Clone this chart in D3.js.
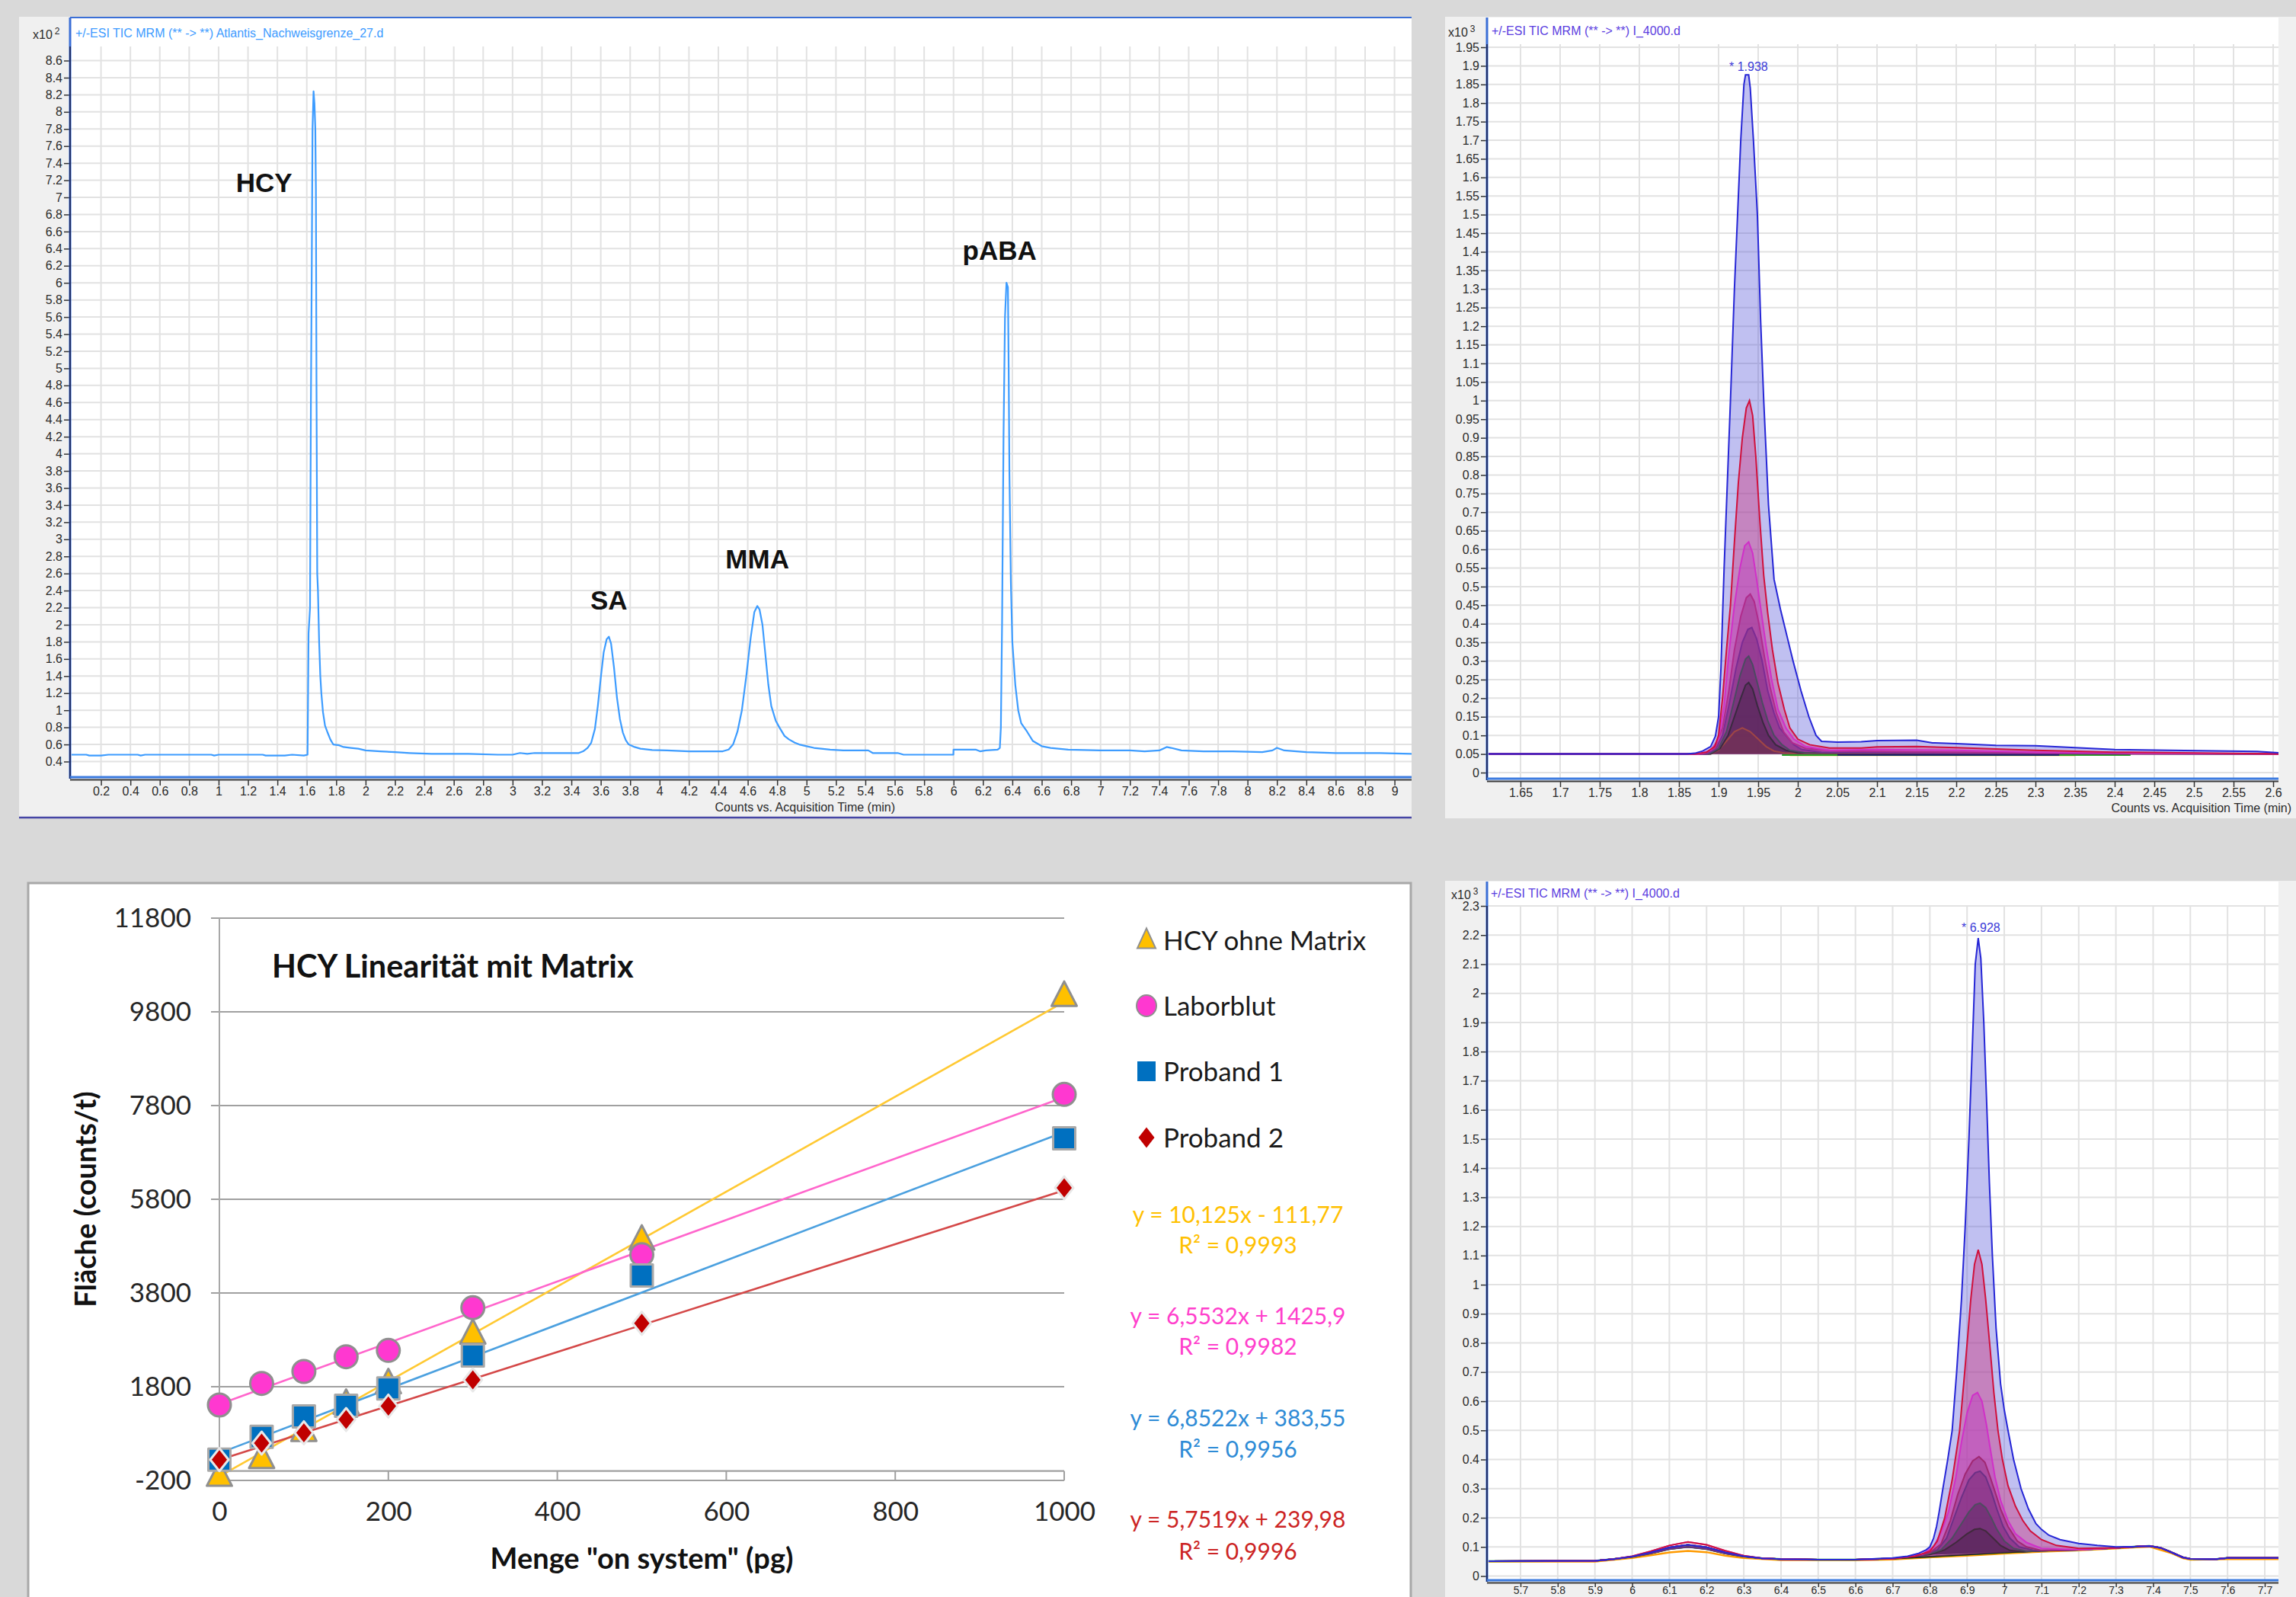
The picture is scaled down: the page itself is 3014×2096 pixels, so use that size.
<!DOCTYPE html>
<html><head><meta charset="utf-8">
<script src="https://cdn.jsdelivr.net/npm/d3@7"></script>
<style>
html,body{margin:0;padding:0;background:#d9d9d9;}
svg{display:block;}
</style></head><body>
<svg id="c" width="3014" height="2096"></svg>
<script>
// ================= DATA =================
// --- top-left chromatogram (time min, counts x10^2) ---
const tlTitle = "+/-ESI TIC MRM (** -> **) Atlantis_Nachweisgrenze_27.d";
const tlXTicks = d3.range(1, 46).map(i => i / 5);      // 0.2 .. 9
const tlYTicks = d3.range(2, 44).map(i => i / 5);      // 0.4 .. 8.6
const tlPeakNames = ["HCY", "SA", "MMA", "pABA"];
const tlPeakTimes = [1.646, 3.655, 4.665, 6.36];
const tlPeakLabelValues = [7.06, 2.18, 2.66, 6.27];
const tlTrace = [
[0.0,0.48],[0.1,0.48],[0.12,0.47],[0.2,0.47],[0.25,0.48],[0.45,0.48],[0.47,0.47],[0.5,0.48],[0.95,0.48],[0.97,0.47],[1.0,0.48],[1.3,0.48],[1.32,0.47],[1.45,0.47],[1.5,0.48],[1.58,0.47],[1.605,0.48],
[1.607,0.85],[1.612,1.9],[1.622,2.2],[1.628,4.6],[1.634,6.25],[1.639,7.8],[1.646,8.24],[1.652,8.1],[1.658,7.8],[1.662,7.1],[1.666,4.8],[1.671,2.6],[1.676,2.4],[1.684,1.8],[1.692,1.4],[1.699,1.2],[1.71,0.98],[1.724,0.82],[1.739,0.75],[1.76,0.66],[1.78,0.6],[1.82,0.59],[1.85,0.57],[1.9,0.56],[1.95,0.55],[2.0,0.53],[2.1,0.52],[2.2,0.51],[2.3,0.5],[2.45,0.49],[2.7,0.49],[2.9,0.48],[3.0,0.48],[3.05,0.5],[3.1,0.49],[3.15,0.5],[3.45,0.5],
[3.48,0.52],[3.51,0.56],[3.535,0.62],[3.56,0.78],[3.58,1.05],[3.6,1.38],[3.62,1.68],[3.64,1.83],[3.655,1.86],[3.67,1.78],[3.69,1.5],[3.71,1.15],[3.73,0.9],[3.75,0.74],[3.77,0.65],[3.79,0.6],[3.83,0.57],[3.87,0.55],[3.95,0.535],[4.05,0.53],[4.2,0.52],[4.43,0.52],
[4.47,0.54],[4.5,0.6],[4.53,0.75],[4.56,1.0],[4.59,1.4],[4.62,1.85],[4.645,2.15],[4.665,2.22],[4.68,2.18],[4.7,2.0],[4.72,1.65],[4.74,1.3],[4.76,1.05],[4.79,0.88],[4.815,0.8],[4.85,0.7],[4.88,0.66],[4.92,0.62],[4.95,0.6],[5.0,0.58],[5.05,0.56],[5.1,0.55],[5.16,0.54],[5.25,0.53],[5.42,0.53],[5.45,0.5],[5.62,0.5],[5.66,0.48],[5.999,0.48],
[6.0,0.54],[6.15,0.54],[6.18,0.52],[6.22,0.53],[6.3,0.54],[6.315,0.56],[6.322,0.8],[6.33,2.0],[6.34,4.2],[6.35,5.6],[6.36,6.0],[6.37,5.95],[6.375,5.0],[6.38,3.8],[6.39,2.5],[6.4,1.8],[6.42,1.3],[6.44,1.0],[6.46,0.85],[6.5,0.75],[6.54,0.64],[6.6,0.58],[6.66,0.56],[6.78,0.54],[7.0,0.53],[7.2,0.53],[7.3,0.52],[7.4,0.53],[7.45,0.57],[7.48,0.56],[7.55,0.53],[7.7,0.52],[7.9,0.52],[8.1,0.51],[8.17,0.53],[8.2,0.56],[8.25,0.53],[8.4,0.51],[8.6,0.5],[8.9,0.5],[9.117,0.49]
];

// --- top-right overlay (time min, counts x10^3) ---
const trTitle = "+/-ESI TIC MRM (** -> **) I_4000.d";
const trXTicks = d3.range(33, 53).map(i => i / 20);   // 1.65 .. 2.6
const trYTicks = d3.range(0, 40).map(i => i / 20);    // 0 .. 1.95
const trPeakLabel = "* 1.938";
const trBaselineValue = 0.05;
const trTraces = [
 [[1.607,0.05],[1.86,0.05],[1.87,0.052],[1.88,0.058],[1.89,0.07],[1.896,0.098],[1.9,0.15],[1.903,0.28],[1.905,0.42],[1.907,0.55],[1.91,0.72],[1.915,1.0],[1.92,1.3],[1.924,1.5],[1.928,1.7],[1.932,1.85],[1.934,1.876],[1.938,1.876],[1.94,1.84],[1.944,1.7],[1.949,1.5],[1.953,1.22],[1.957,1.0],[1.963,0.72],[1.97,0.52],[1.978,0.44],[1.986,0.37],[1.994,0.3],[2.004,0.22],[2.014,0.15],[2.023,0.1],[2.03,0.084],[2.05,0.082],[2.08,0.083],[2.1,0.086],[2.15,0.087],[2.17,0.08],[2.2,0.078],[2.25,0.073],[2.3,0.072],[2.35,0.067],[2.4,0.062],[2.47,0.06],[2.58,0.057],[2.607,0.053]],
 [[1.607,0.05],[1.87,0.05],[1.885,0.055],[1.895,0.07],[1.9,0.1],[1.905,0.2],[1.91,0.33],[1.915,0.45],[1.92,0.62],[1.925,0.78],[1.93,0.9],[1.935,0.98],[1.939,1.0],[1.943,0.96],[1.947,0.85],[1.952,0.68],[1.957,0.53],[1.962,0.43],[1.968,0.33],[1.975,0.24],[1.983,0.17],[1.99,0.12],[2.0,0.09],[2.015,0.075],[2.04,0.066],[2.08,0.066],[2.1,0.069],[2.15,0.07],[2.2,0.067],[2.3,0.06],[2.4,0.055],[2.5,0.053],[2.607,0.05]],
 [[1.607,0.05],[1.875,0.05],[1.89,0.06],[1.9,0.09],[1.907,0.18],[1.913,0.32],[1.92,0.45],[1.927,0.55],[1.933,0.61],[1.938,0.62],[1.943,0.59],[1.948,0.52],[1.954,0.43],[1.96,0.34],[1.967,0.25],[1.975,0.17],[1.985,0.12],[1.995,0.09],[2.01,0.07],[2.04,0.06],[2.1,0.062],[2.2,0.06],[2.3,0.055],[2.45,0.052],[2.607,0.05]],
 [[1.607,0.05],[1.88,0.05],[1.895,0.065],[1.905,0.12],[1.913,0.22],[1.92,0.33],[1.928,0.42],[1.935,0.47],[1.94,0.48],[1.945,0.46],[1.951,0.4],[1.958,0.31],[1.965,0.23],[1.973,0.16],[1.982,0.11],[1.993,0.08],[2.01,0.065],[2.05,0.058],[2.2,0.055],[2.4,0.052],[2.607,0.05]],
 [[1.607,0.05],[1.885,0.05],[1.897,0.065],[1.905,0.1],[1.913,0.18],[1.922,0.28],[1.93,0.35],[1.937,0.385],[1.942,0.39],[1.948,0.36],[1.955,0.3],[1.962,0.22],[1.97,0.16],[1.977,0.12],[1.985,0.1],[1.995,0.075],[2.005,0.062],[2.03,0.055],[2.2,0.052],[2.607,0.05]],
 [[1.607,0.05],[1.888,0.05],[1.9,0.065],[1.91,0.11],[1.918,0.18],[1.927,0.26],[1.934,0.305],[1.938,0.313],[1.943,0.29],[1.949,0.24],[1.955,0.19],[1.962,0.14],[1.97,0.1],[1.98,0.075],[1.99,0.06],[2.01,0.053],[2.607,0.05]],
 [[1.607,0.05],[1.89,0.05],[1.902,0.065],[1.912,0.1],[1.92,0.15],[1.928,0.2],[1.934,0.235],[1.938,0.242],[1.943,0.225],[1.949,0.18],[1.956,0.135],[1.963,0.1],[1.972,0.075],[1.985,0.06],[2.0,0.053],[2.607,0.05]],
 [[1.607,0.05],[1.89,0.05],[1.9,0.06],[1.91,0.085],[1.92,0.11],[1.93,0.12],[1.94,0.11],[1.95,0.09],[1.96,0.07],[1.97,0.058],[1.985,0.052],[2.607,0.05]]
];
const trFlatTraces = [
 [[1.99,0.047],[2.35,0.047]],
 [[1.98,0.0475],[2.01,0.0475],[2.32,0.0475],[2.42,0.0475]],
 [[2.05,0.048],[2.07,0.048],[2.18,0.048],[2.2,0.048],[2.3,0.048],[2.33,0.048]]
];

// --- bottom-right overlay (time min, counts x10^3) ---
const brTitle = "+/-ESI TIC MRM (** -> **) I_4000.d";
const brXTicks = d3.range(57, 78).map(i => i / 10);   // 5.7 .. 7.7
const brYTicks = d3.range(0, 24).map(i => i / 10);    // 0 .. 2.3
const brPeakLabel = "* 6.928";
const brBase = [[5.61,0.051],[5.9,0.052],[5.95,0.058],[6.0,0.066],[6.05,0.078],[6.1,0.093],[6.15,0.1],[6.2,0.093],[6.25,0.078],[6.3,0.067],[6.35,0.061],[6.4,0.058],[6.5,0.056],[6.6,0.056],[6.7,0.06],[6.8,0.067],[6.9,0.074],[7.0,0.081],[7.1,0.087],[7.2,0.09],[7.3,0.097],[7.35,0.101],[7.39,0.103],[7.42,0.097],[7.45,0.081],[7.48,0.064],[7.5,0.059],[7.57,0.058],[7.6,0.062],[7.737,0.062]];
const brBumpHigh = [[6.0,0.068],[6.05,0.085],[6.1,0.105],[6.15,0.117],[6.2,0.107],[6.25,0.087],[6.3,0.07]];
const brBumpMid  = [[6.0,0.067],[6.05,0.081],[6.1,0.098],[6.15,0.107],[6.2,0.099],[6.25,0.081],[6.3,0.068]];
const brOrange = [[5.61,0.05],[5.9,0.05],[6.0,0.062],[6.05,0.071],[6.1,0.081],[6.15,0.086],[6.2,0.082],[6.25,0.07],[6.3,0.062],[6.4,0.055],[6.6,0.054],[6.7,0.057],[6.8,0.064],[6.9,0.07],[7.0,0.077],[7.1,0.084],[7.2,0.088],[7.3,0.095],[7.39,0.101],[7.45,0.078],[7.48,0.061],[7.5,0.056],[7.6,0.058],[7.737,0.058]];
const brPeaks = [
 [[6.7,0.062],[6.74,0.068],[6.77,0.078],[6.79,0.09],[6.8,0.1],[6.81,0.13],[6.818,0.17],[6.825,0.22],[6.835,0.3],[6.848,0.4],[6.86,0.5],[6.872,0.7],[6.885,0.95],[6.895,1.2],[6.905,1.5],[6.915,1.85],[6.922,2.1],[6.93,2.19],[6.937,2.12],[6.945,1.9],[6.952,1.65],[6.96,1.35],[6.968,1.1],[6.978,0.85],[6.99,0.66],[7.0,0.57],[7.01,0.5],[7.025,0.4],[7.045,0.3],[7.065,0.23],[7.085,0.18],[7.1,0.16],[7.12,0.14],[7.15,0.125],[7.2,0.112],[7.25,0.105],[7.3,0.1]],
 [[6.72,0.062],[6.76,0.068],[6.8,0.085],[6.82,0.12],[6.84,0.2],[6.86,0.33],[6.88,0.5],[6.895,0.72],[6.91,0.95],[6.92,1.07],[6.93,1.12],[6.94,1.07],[6.95,0.95],[6.962,0.78],[6.972,0.63],[6.983,0.5],[6.995,0.4],[7.01,0.31],[7.03,0.24],[7.05,0.19],[7.07,0.155],[7.1,0.125],[7.14,0.105],[7.2,0.095]],
 [[6.74,0.066],[6.78,0.075],[6.81,0.1],[6.83,0.15],[6.85,0.22],[6.87,0.34],[6.885,0.46],[6.9,0.56],[6.915,0.62],[6.928,0.63],[6.94,0.6],[6.952,0.52],[6.962,0.44],[6.975,0.34],[6.99,0.26],[7.01,0.19],[7.03,0.145],[7.06,0.115],[7.1,0.095]],
 [[6.76,0.07],[6.8,0.08],[6.83,0.11],[6.855,0.19],[6.875,0.28],[6.895,0.35],[6.915,0.395],[6.932,0.41],[6.948,0.39],[6.962,0.34],[6.975,0.29],[6.99,0.23],[7.01,0.17],[7.035,0.12],[7.06,0.1],[7.1,0.088]],
 [[6.78,0.072],[6.82,0.09],[6.845,0.13],[6.865,0.2],[6.885,0.27],[6.905,0.33],[6.922,0.355],[6.935,0.36],[6.95,0.34],[6.965,0.29],[6.98,0.23],[6.997,0.17],[7.015,0.13],[7.04,0.1],[7.08,0.088]],
 [[6.79,0.073],[6.83,0.09],[6.86,0.13],[6.885,0.18],[6.905,0.22],[6.922,0.245],[6.935,0.25],[6.95,0.235],[6.965,0.2],[6.98,0.16],[7.0,0.12],[7.025,0.095],[7.06,0.085]],
 [[6.8,0.074],[6.84,0.09],[6.87,0.115],[6.9,0.145],[6.92,0.16],[6.935,0.163],[6.95,0.155],[6.97,0.13],[6.99,0.105],[7.015,0.088],[7.05,0.083]]
];
const brPeakBumps = [brBumpMid, brBumpHigh, brBumpHigh, brBumpMid, null, brBumpMid, null];

// --- bottom-left calibration chart ---
const excelTitle = "HCY Linearität mit Matrix";
const excelXLabel = "Menge \"on system\" (pg)";
const excelYLabel = "Fläche (counts/t)";
const excelXTicks = [0, 200, 400, 600, 800, 1000];
const excelYTicks = [-200, 1800, 3800, 5800, 7800, 9800, 11800];
const amounts = [0, 50, 100, 150, 200, 300, 500, 1000];
const seriesNames = ["HCY ohne Matrix", "Laborblut", "Proband 1", "Proband 2"];
const hcyOhneMatrix = [-107, 272, 850, 1430, 1870, 2927, 4933, 10136];
const laborblut     = [1410, 1870, 2125, 2439, 2575, 3486, 4618, 8039];
const proband1      = [244, 732, 1166, 1393, 1763, 2467, 4174, 7101];
const proband2      = [244, 597, 817, 1100, 1387, 1946, 3154, 6044];
const trendSlopes     = [10.125, 6.5532, 6.8522, 5.7519];
const trendIntercepts = [-111.77, 1425.9, 383.55, 239.98];
const equationTexts = ["y = 10,125x - 111,77", "y = 6,5532x + 1425,9", "y = 6,8522x + 383,55", "y = 5,7519x + 239,98"];
const r2Texts = ["R² = 0,9993", "R² = 0,9982", "R² = 0,9956", "R² = 0,9996"];

// ================= DRAWING =================
const svg = d3.select("#c");
svg.append("rect").attr("width", 3014).attr("height", 2096).attr("fill", "#d9d9d9");
const AG_FONT = "'Liberation Sans', Arial, sans-serif";
const XL_FONT = "Lato, 'Open Sans', sans-serif";
const fmt = d => String(+d.toFixed(2));

function agilent(c) {
  const g = svg.append("g");
  const x = d3.scaleLinear(c.xd, c.xr), y = d3.scaleLinear(c.yd, c.yr);
  g.append("rect").attr("x", c.px).attr("y", c.py).attr("width", c.pw).attr("height", c.ph).attr("fill", "#f0f0f0");
  g.append("rect").attr("x", c.L).attr("y", c.T).attr("width", c.R - c.L).attr("height", c.B - c.T).attr("fill", "#fff");
  const grid = g.append("g").attr("stroke", "#e2e2e2").attr("stroke-width", 2);
  grid.selectAll("line.v").data(c.xt).join("line").attr("class", "v")
    .attr("x1", d => x(d)).attr("x2", d => x(d)).attr("y1", c.G).attr("y2", c.B);
  grid.selectAll("line.h").data(c.yt).join("line").attr("class", "h")
    .attr("x1", c.L).attr("x2", c.R).attr("y1", d => y(d)).attr("y2", d => y(d));
  const cid = "clip" + c.id;
  svg.append("clipPath").attr("id", cid).append("rect")
    .attr("x", c.L + 2).attr("y", c.G - 4).attr("width", c.R - c.L - 2).attr("height", c.B - c.G + 2);
  const plot = g.append("g").attr("clip-path", `url(#${cid})`);
  const frame = g.append("g");
  frame.append("g").attr("transform", `translate(${c.L},0)`)
    .call(d3.axisLeft(y).tickValues(c.yt).tickSize(8).tickPadding(2).tickFormat(fmt))
    .call(s => s.select(".domain").remove())
    .attr("font-family", AG_FONT).attr("font-size", 16)
    .call(s => s.selectAll("text").attr("fill", "#2a2a2a"))
    .call(s => s.selectAll("line").attr("stroke", "#333").attr("stroke-width", 1.5));
  frame.append("g").attr("transform", `translate(0,${c.B + 4})`)
    .call(d3.axisBottom(x).tickValues(c.xt).tickSize(c.xTick).tickPadding(c.xPad).tickFormat(fmt))
    .call(s => s.select(".domain").remove())
    .attr("font-family", AG_FONT).attr("font-size", c.xFont)
    .call(s => s.selectAll("text").attr("fill", "#2a2a2a"))
    .call(s => s.selectAll("line").attr("stroke", "#333").attr("stroke-width", 1.5));
  frame.append("line").attr("x1", c.L).attr("x2", c.L).attr("y1", c.T).attr("y2", c.B + 2)
    .attr("stroke", "#3b6fd6").attr("stroke-width", 3);
  frame.append("line").attr("x1", c.L).attr("x2", c.L).attr("y1", c.G).attr("y2", c.B + 2)
    .attr("stroke", "#1c2c66").attr("stroke-width", 2);
  if (c.topLine) frame.append("line").attr("x1", c.L).attr("x2", c.R).attr("y1", c.T).attr("y2", c.T)
    .attr("stroke", "#3b6fd6").attr("stroke-width", 2);
  frame.append("line").attr("x1", c.L).attr("x2", c.R).attr("y1", c.B).attr("y2", c.B)
    .attr("stroke", "#3b7be0").attr("stroke-width", 3);
  frame.append("line").attr("x1", c.L).attr("x2", c.R).attr("y1", c.B + 3.5).attr("y2", c.B + 3.5)
    .attr("stroke", "#3a3a3a").attr("stroke-width", 2);
  frame.append("text").attr("x", c.titleX).attr("y", c.titleY).attr("font-family", AG_FONT)
    .attr("font-size", 16).attr("fill", c.titleColor).text(c.title);
  const ex = frame.append("text").attr("x", c.expX).attr("y", c.expY).attr("font-family", AG_FONT)
    .attr("font-size", 16).attr("fill", "#2a2a2a").text("x10");
  ex.append("tspan").attr("dx", 3).attr("dy", -6).attr("font-size", 12).text(c.exp);
  if (c.xTitle) frame.append("text").attr("x", c.xTitleX).attr("y", c.xTitleY).attr("font-family", AG_FONT)
    .attr("font-size", c.xTitleSize).attr("fill", "#2a2a2a").attr("text-anchor", c.xTitleAnchor).text(c.xTitle);
  return { g, x, y, plot, frame };
}

// ---------- top-left ----------
const tl = agilent({ id: "tl", px: 25, py: 22, pw: 1828, ph: 1051, L: 92, T: 23, G: 61, R: 1853, B: 1020,
  xd: [0, 9], xr: [94, 1830.6], yd: [0.4, 8.6], yr: [999.5, 79.5], xt: tlXTicks, yt: tlYTicks,
  xTick: 7, xPad: 2, xFont: 16,
  title: tlTitle, titleColor: "#3d9bff", titleX: 99, titleY: 49, exp: "2", expX: 43, expY: 51, topLine: true,
  xTitle: "Counts vs. Acquisition Time (min)", xTitleX: 1175, xTitleY: 1065, xTitleAnchor: "end", xTitleSize: 16 });
tl.plot.append("path").datum(tlTrace).attr("fill", "none").attr("stroke", "#3d9cff").attr("stroke-width", 2.2)
  .attr("stroke-linejoin", "round")
  .attr("d", d3.line().x(d => tl.x(d[0])).y(d => tl.y(d[1])));
tl.frame.selectAll("text.pk").data(tlPeakNames).join("text").attr("class", "pk")
  .attr("x", (d, i) => tl.x(tlPeakTimes[i]) - (i === 0 ? 65 : (i === 3 ? 9 : 0)))
  .attr("y", (d, i) => tl.y(tlPeakLabelValues[i]))
  .attr("text-anchor", "middle").attr("font-family", AG_FONT).attr("font-weight", "bold")
  .attr("font-size", 35).attr("fill", "#111").text(d => d);
svg.append("line").attr("x1", 25).attr("x2", 1853).attr("y1", 1073).attr("y2", 1073)
  .attr("stroke", "#4545a5").attr("stroke-width", 2.5);

// ---------- top-right ----------
const tr = agilent({ id: "tr", px: 1897, py: 22, pw: 1117, ph: 1052, L: 1952, T: 23, G: 58, R: 2991, B: 1022,
  xd: [1.65, 2.5], xr: [1996, 2880], yd: [0, 1.95], yr: [1014, 62], xt: trXTicks, yt: trYTicks,
  xTick: 7, xPad: 2, xFont: 16,
  title: trTitle, titleColor: "#5a3de0", titleX: 1958, titleY: 46, exp: "3", expX: 1901, expY: 48, topLine: false,
  xTitle: "Counts vs. Acquisition Time (min)", xTitleX: 3008, xTitleY: 1066, xTitleAnchor: "end", xTitleSize: 16 });
const trStroke = ["#2626d6", "#d0103c", "#d030c8", "#b02c8c", "#7c2c94", "#4c4a62", "#3a2a40", "#a04646"];
const trFill = ["rgba(80,80,215,0.36)", "rgba(205,45,120,0.40)", "rgba(190,60,190,0.45)", "rgba(150,40,130,0.40)",
  "rgba(115,40,125,0.42)", "rgba(80,45,90,0.42)", "rgba(70,30,70,0.42)", "rgba(150,60,60,0.25)"];
const trFlatStroke = ["#ff9a00", "#22a022", "#101070"];
tr.plot.selectAll("path.flat").data(trFlatTraces).join("path").attr("class", "flat")
  .attr("fill", "none").attr("stroke", (d, i) => trFlatStroke[i]).attr("stroke-width", 2.5)
  .attr("d", d3.line().x(d => tr.x(d[0])).y(d => tr.y(d[1])));
tr.plot.selectAll("path.fill").data(trTraces).join("path").attr("class", "fill")
  .attr("fill", (d, i) => trFill[i]).attr("stroke", "none")
  .attr("d", d3.area().x(d => tr.x(d[0])).y0(tr.y(trBaselineValue)).y1(d => tr.y(d[1])));
tr.plot.selectAll("path.ln").data(trTraces.slice().reverse()).join("path").attr("class", "ln")
  .attr("fill", "none").attr("stroke", (d, i) => trStroke[trTraces.length - 1 - i]).attr("stroke-width", 2)
  .attr("d", d3.line().x(d => tr.x(d[0])).y(d => tr.y(d[1])));
tr.frame.append("text").attr("x", 2270).attr("y", 93).attr("font-family", AG_FONT).attr("font-size", 16)
  .attr("fill", "#3b3bd8").text(trPeakLabel);

// ---------- bottom-right ----------
const br = agilent({ id: "br", px: 1897, py: 1156, pw: 1117, ph: 940, L: 1952, T: 1157, G: 1189, R: 2991, B: 2074,
  xd: [5.7, 7.7], xr: [1996, 2973], yd: [0, 2.3], yr: [2068.5, 1189], xt: brXTicks, yt: brYTicks,
  xTick: 5, xPad: -1, xFont: 14,
  title: brTitle, titleColor: "#5a3de0", titleX: 1957, titleY: 1178, exp: "3", expX: 1905, expY: 1180, topLine: false });
function buildTrace(base, segs) {
  const s = segs.filter(Boolean);
  let pts = base.filter(p => !s.some(q => p[0] >= q[0][0] && p[0] <= q[q.length - 1][0]));
  s.forEach(q => { pts = pts.concat(q); });
  return pts.sort((a, b) => a[0] - b[0]);
}
const brStroke = ["#2626d6", "#d0103c", "#d030c8", "#a02872", "#6c3086", "#4e4c60", "#402a3c"];
const brFill = ["rgba(80,80,215,0.36)", "rgba(205,45,120,0.42)", "rgba(190,60,190,0.48)", "rgba(140,40,120,0.42)",
  "rgba(110,40,120,0.42)", "rgba(80,40,90,0.42)", "rgba(70,30,70,0.42)"];
const brFullTraces = brPeaks.map((p, i) => buildTrace(brBase, [p, brPeakBumps[i]]));
br.plot.append("path").datum(brOrange).attr("fill", "none").attr("stroke", "#ff9a00").attr("stroke-width", 2.5)
  .attr("d", d3.line().x(d => br.x(d[0])).y(d => br.y(d[1])));
br.plot.append("path").datum(buildTrace(brBase, [])).attr("fill", "none").attr("stroke", "#22a022").attr("stroke-width", 2.5)
  .attr("d", d3.line().x(d => br.x(d[0])).y(d => br.y(d[1])));
br.plot.append("path").datum(buildTrace(brBase, [brBumpMid])).attr("fill", "none").attr("stroke", "#202020").attr("stroke-width", 2)
  .attr("d", d3.line().x(d => br.x(d[0])).y(d => br.y(d[1])));
br.plot.selectAll("path.fill").data(brPeaks).join("path").attr("class", "fill")
  .attr("fill", (d, i) => brFill[i])
  .attr("d", p => {
    const a = p[0], b = p[p.length - 1];
    return d3.area().x(d => br.x(d[0]))
      .y0(d => br.y(a[1] + (b[1] - a[1]) * (d[0] - a[0]) / (b[0] - a[0])))
      .y1(d => br.y(d[1]))(p);
  });
br.plot.selectAll("path.ln").data(brFullTraces.slice().reverse()).join("path").attr("class", "ln")
  .attr("fill", "none").attr("stroke", (d, i) => brStroke[brFullTraces.length - 1 - i]).attr("stroke-width", 2)
  .attr("d", d3.line().x(d => br.x(d[0])).y(d => br.y(d[1])));
br.frame.append("text").attr("x", 2575).attr("y", 1223).attr("font-family", AG_FONT).attr("font-size", 16)
  .attr("fill", "#3b3bd8").text(brPeakLabel);

// ---------- bottom-left Excel chart ----------
const xl = svg.append("g");
xl.append("rect").attr("x", 37).attr("y", 1159).attr("width", 1815).attr("height", 980)
  .attr("fill", "#fff").attr("stroke", "#a8a8a8").attr("stroke-width", 3);
const xE = d3.scaleLinear([0, 1000], [288, 1397]);
const yE = d3.scaleLinear([-200, 11800], [1943, 1205]);
xl.append("g").selectAll("line").data(excelYTicks).join("line")
  .attr("x1", 277).attr("x2", xE(1000)).attr("y1", d => yE(d)).attr("y2", d => yE(d))
  .attr("stroke", "#a0a0a0").attr("stroke-width", 2.2);
xl.append("line").attr("x1", xE(0)).attr("x2", xE(0)).attr("y1", yE(11800)).attr("y2", yE(-200))
  .attr("stroke", "#a8a8a8").attr("stroke-width", 2);
xl.append("line").attr("x1", xE(0)).attr("x2", xE(1000)).attr("y1", yE(0)).attr("y2", yE(0))
  .attr("stroke", "#a0a0a0").attr("stroke-width", 2.2);
xl.append("g").selectAll("line").data(excelXTicks.slice(1)).join("line")
  .attr("x1", d => xE(d)).attr("x2", d => xE(d)).attr("y1", yE(0)).attr("y2", yE(-200))
  .attr("stroke", "#a0a0a0").attr("stroke-width", 2);
xl.append("g").attr("transform", "translate(277,0)")
  .call(d3.axisLeft(yE).tickValues(excelYTicks).tickSize(0).tickPadding(26).tickFormat(d => String(d)))
  .call(s => s.select(".domain").remove())
  .attr("font-family", XL_FONT).attr("font-size", 35)
  .call(s => s.selectAll("text").attr("fill", "#262626"));
xl.append("g").attr("transform", `translate(0,${yE(-200)})`)
  .call(d3.axisBottom(xE).tickValues(excelXTicks).tickSize(0).tickPadding(28).tickFormat(d => String(d)))
  .call(s => s.select(".domain").remove())
  .attr("font-family", XL_FONT).attr("font-size", 35)
  .call(s => s.selectAll("text").attr("fill", "#262626"));
xl.append("text").attr("x", 357).attr("y", 1283).attr("font-family", XL_FONT).attr("font-weight", "bold")
  .attr("font-size", 41.5).attr("fill", "#111").text(excelTitle);
xl.append("text").attr("x", (xE(0) + xE(1000)) / 2).attr("y", 2059).attr("text-anchor", "middle")
  .attr("font-family", XL_FONT).attr("font-weight", "bold").attr("font-size", 38).attr("fill", "#111").text(excelXLabel);
xl.append("text").attr("transform", `translate(126,${(yE(-200) + yE(11800)) / 2}) rotate(-90)`)
  .attr("text-anchor", "middle").attr("font-family", XL_FONT).attr("font-weight", "bold")
  .attr("font-size", 38).attr("fill", "#111").text(excelYLabel);

const trendColors = ["#ffc933", "#ff66cc", "#4ba0df", "#d44848"];
xl.append("g").selectAll("line").data(trendSlopes).join("line")
  .attr("x1", xE(0)).attr("x2", xE(1000))
  .attr("y1", (m, i) => yE(trendIntercepts[i]))
  .attr("y2", (m, i) => yE(m * 1000 + trendIntercepts[i]))
  .attr("stroke", (d, i) => trendColors[i]).attr("stroke-width", 2.6);

const seriesValues = [hcyOhneMatrix, laborblut, proband1, proband2];
const markerFill = ["#ffc000", "#ff38d0", "#0070c0", "#c00000"];
const markerStroke = ["#8f8f8f", "#8f8f8f", "#a8a8a8", "#e8e8e8"];
function markerPath(k, w, h) {
  if (k === 0) return `M0,${-h * 0.6}L${w / 2},${h * 0.4}L${-w / 2},${h * 0.4}Z`;
  if (k === 1) return `M${-w / 2},0A${w / 2},${h / 2} 0 1,0 ${w / 2},0A${w / 2},${h / 2} 0 1,0 ${-w / 2},0Z`;
  if (k === 2) return `M${-w / 2},${-h / 2}H${w / 2}V${h / 2}H${-w / 2}Z`;
  return `M0,${-h / 2}L${w / 2},0L0,${h / 2}L${-w / 2},0Z`;
}
const markerW = [33, 30, 29, 24], markerH = [32, 30, 29, 30];
seriesValues.forEach((vals, k) => {
  xl.append("g").selectAll("path").data(vals).join("path")
    .attr("transform", (v, i) => `translate(${xE(amounts[i])},${yE(v)})`)
    .attr("d", markerPath(k, markerW[k], markerH[k]))
    .attr("fill", markerFill[k]).attr("stroke", markerStroke[k]).attr("stroke-width", 3)
    .attr("stroke-linejoin", "round");
});

const legY = [1247, 1333, 1419, 1506];
const legW = [24, 26, 24, 21], legH = [26, 28, 26, 27];
const leg = xl.append("g");
seriesNames.forEach((name, k) => {
  leg.append("path").attr("transform", `translate(1505,${legY[k] - 13})`)
    .attr("d", markerPath(k, legW[k], legH[k])).attr("fill", markerFill[k])
    .attr("stroke", k < 2 ? "#8f8f8f" : "none").attr("stroke-width", 2);
  leg.append("text").attr("x", 1527).attr("y", legY[k]).attr("font-family", XL_FONT)
    .attr("font-size", 35).attr("fill", "#1a1a1a").text(name);
});
const eqColors = ["#ffc000", "#ff3fcc", "#2e8bd6", "#cc2424"];
const eqY = [1605, 1738, 1872, 2005], r2Y = [1645, 1778, 1913, 2047];
equationTexts.forEach((t, k) => {
  xl.append("text").attr("x", 1625).attr("y", eqY[k]).attr("text-anchor", "middle").attr("font-family", XL_FONT)
    .attr("font-size", 30).attr("fill", eqColors[k]).text(t);
  xl.append("text").attr("x", 1625).attr("y", r2Y[k]).attr("text-anchor", "middle").attr("font-family", XL_FONT)
    .attr("font-size", 30).attr("fill", eqColors[k]).text(r2Texts[k]);
});
</script>
</body></html>
